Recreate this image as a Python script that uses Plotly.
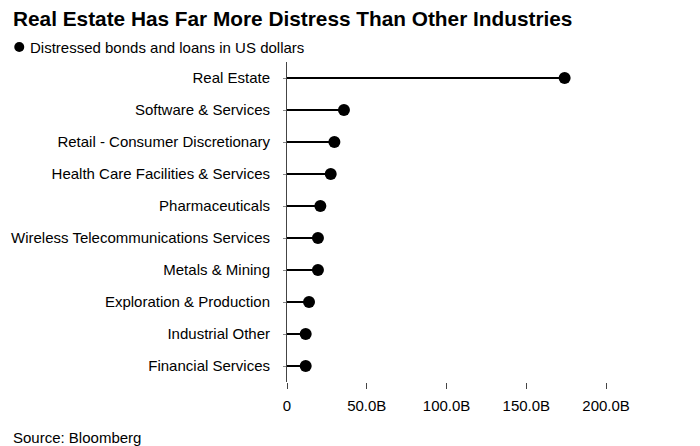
import plotly.graph_objects as go

categories = ["Real Estate", "Software & Services", "Retail - Consumer Discretionary",
              "Health Care Facilities & Services", "Pharmaceuticals",
              "Wireless Telecommunications Services", "Metals & Mining",
              "Exploration & Production", "Industrial Other", "Financial Services"]
values_b = [174.0, 35.7, 29.7, 27.4, 20.9, 19.4, 19.4, 13.8, 11.7, 11.7]
tick_vals = [0, 50, 100, 150, 200]
tick_text = ["0", "50.0B", "100.0B", "150.0B", "200.0B"]
series_name = "Distressed bonds and loans in US dollars"

stem_x, stem_y = [], []
for c, v in zip(categories, values_b):
    stem_x += [0, v, None]
    stem_y += [c, c, None]

W, H = 700, 446
OFF = 8  # page body margin offset
# target plot area in page pixels: left 287, top 62, bottom 382, right ~637.7
ml = 287 - OFF
mt = 62 - OFF
mb = H - (382 - OFF)
mr = W - (637.7 - OFF)
pw, ph = W - ml - mr, H - mt - mb


def px_x(x):
    return (x - OFF - ml) / pw


def px_y(y):
    return (H - mb - (y - OFF)) / ph


fig = go.Figure()
fig.add_trace(go.Scatter(x=stem_x, y=stem_y, mode="lines",
                         line=dict(color="#000000", width=2),
                         showlegend=False, hoverinfo="skip"))
fig.add_trace(go.Scatter(x=values_b, y=categories, mode="markers",
                         marker=dict(color="#000000", size=12),
                         name=series_name, showlegend=False))

font_main = "Liberation Sans, Arial, sans-serif"
fig.update_layout(
    width=W, height=H,
    margin=dict(l=ml, r=mr, t=mt, b=mb, autoexpand=False),
    paper_bgcolor="white", plot_bgcolor="white",
    font=dict(family=font_main, size=15, color="#000000"),
    title=dict(text="<b>Real Estate Has Far More Distress Than Other Industries</b>",
               x=(13 - OFF) / W, xanchor="left", xref="container",
               y=1 - (18.5 - OFF) / H, yanchor="middle", yref="container",
               pad=dict(l=0, r=0, t=0, b=0),
               font=dict(family=font_main, size=20.8, color="#000000")),
    showlegend=False,
    xaxis=dict(range=[0, 220], tickvals=tick_vals, ticktext=tick_text,
               showgrid=False, zeroline=False, showline=False,
               ticks="outside", ticklen=6, tickcolor="#444444", tickwidth=1,
               ticklabelstandoff=4,
               tickfont=dict(size=15), fixedrange=True),
    yaxis=dict(categoryorder="array", categoryarray=categories,
               range=[len(categories) - 0.5, -0.5], showgrid=False, zeroline=False,
               showline=True, linecolor="#444444", linewidth=1,
               ticks="outside", ticklen=3, tickcolor="#888888",
               ticklabelstandoff=10,
               tickfont=dict(size=15), fixedrange=True),
)
# legend entry (dot + label)
fig.add_shape(type="circle", xref="paper", yref="paper",
              xsizemode="pixel", ysizemode="pixel",
              xanchor=px_x(19.5), yanchor=px_y(47),
              x0=-5, x1=5, y0=-5, y1=5,
              fillcolor="#000000", line=dict(width=0))
fig.add_annotation(text=series_name, xref="paper", yref="paper",
                   x=px_x(28), y=px_y(47), xanchor="left", yanchor="middle",
                   showarrow=False, font=dict(size=15))
fig.add_annotation(text="Source: Bloomberg", xref="paper", yref="paper",
                   x=px_x(11), y=px_y(437), xanchor="left", yanchor="middle",
                   showarrow=False, font=dict(size=15))
fig.write_html("out.html")
